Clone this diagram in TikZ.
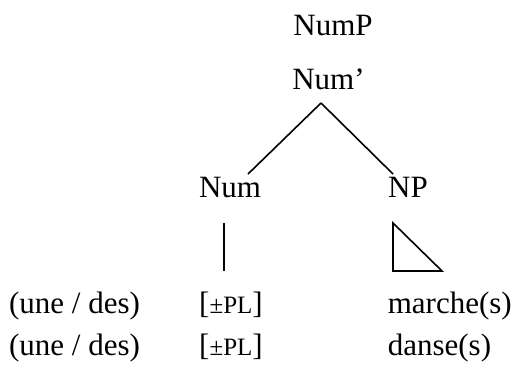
\documentclass[tikz,border=0pt]{standalone}
\usepackage{fontspec}
\setmainfont{Liberation Serif}
\newcommand{\feat}[1]{{\fontsize{12.5}{14}\selectfont #1}}

\begin{document}
\begin{tikzpicture}[x=0.5pt, y=-0.5pt, line width=0.8pt,
    word/.style={inner sep=0pt, anchor=base, font=\fontsize{15.5}{18}\selectfont}]
    \useasboundingbox (0,0) rectangle (517,372);

    % tree labels
    \node[word] (nump) at (333, 35) {NumP};
    \node[word] (numbar) at (328.5, 89) {Num’};
    \node[word] (num) at (230, 197) {Num};
    \node[word] (np) at (408, 197) {NP};

    % rows
    \node[word] (det1) at (74.5, 313) {(une / des)};
    \node[word] (pl1) at (231, 313) {[\feat{±PL}]};
    \node[word, anchor=base west] (n1) at (387, 313) {marche(s)};
    \node[word] (det2) at (74.5, 355) {(une / des)};
    \node[word] (pl2) at (231, 355) {[\feat{±PL}]};
    \node[word, anchor=base west] (n2) at (387, 355) {danse(s)};

    % branches
    \coordinate (apex) at ([shift={(-7.5,14)}]numbar.base);
    \draw (apex) -- ([shift={(18,-23)}]num.base);
    \draw (apex) -- ([shift={(-15,-23)}]np.base);
    \draw ([shift={(-6,26)}]num.base) -- ([shift={(-7,-42)}]pl1.base);
    \draw ([shift={(-15,26)}]np.base) -- ([shift={(6,-42)}]n1.base west)
        -- ([shift={(55,-42)}]n1.base west) -- cycle;
\end{tikzpicture}
\end{document}
